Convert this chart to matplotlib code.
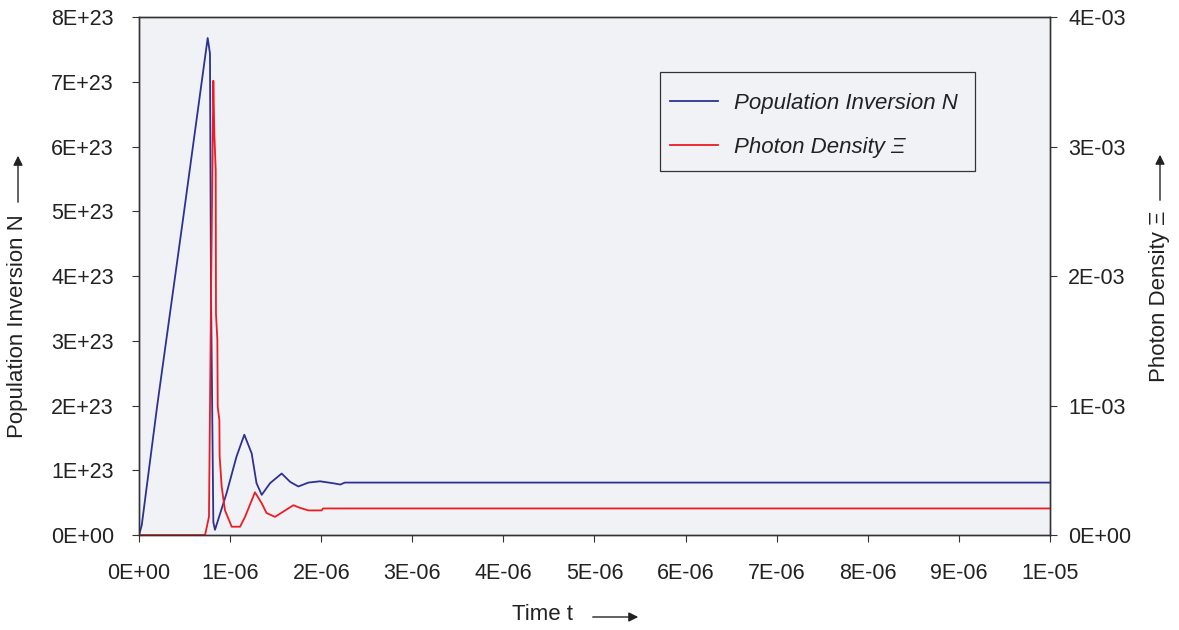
import matplotlib.pyplot as plt
from matplotlib.patches import Rectangle
from matplotlib.ticker import FixedLocator

plt.rcParams['font.family'] = ['Liberation Sans', 'DejaVu Sans']

# population inversion N (time in s, N in m^-3)
t_n = [0, 0.03, 0.2, 0.49, 0.754, 0.779, 0.79, 0.816, 0.834, 0.96, 1.07, 1.156,
       1.237, 1.29, 1.347, 1.438, 1.566, 1.66, 1.749, 1.86, 1.987, 2.13, 2.21,
       2.26, 10.0]
n_vals = [0, 0.15, 2.0, 4.95, 7.68, 7.44, 3.84, 0.2, 0.08, 0.64, 1.21, 1.55,
          1.26, 0.80, 0.62, 0.80, 0.95, 0.82, 0.75, 0.81, 0.83, 0.80, 0.78,
          0.81, 0.81]

# photon density Xi
t_p = [0, 0.725, 0.768, 0.79, 0.816, 0.827, 0.842, 0.845, 0.86, 0.864, 0.882,
       0.885, 0.908, 0.944, 1.018, 1.109, 1.164, 1.273, 1.347, 1.40, 1.493,
       1.694, 1.767, 1.858, 2.005, 2.02, 10.0]
p_vals = [0, 0, 0.14, 1.8, 3.51, 3.10, 2.82, 1.71, 1.51, 0.99, 0.89, 0.61,
          0.37, 0.19, 0.064, 0.064, 0.14, 0.33, 0.245, 0.17, 0.14, 0.23, 0.21,
          0.19, 0.19, 0.205, 0.205]

x_ticks = [i * 1e-6 for i in range(11)]
x_labels = ['0E+00'] + ['%dE-06' % i for i in range(1, 10)] + ['1E-05']
left_ticks = [i * 1e23 for i in range(9)]
left_labels = ['0E+00'] + ['%dE+23' % i for i in range(1, 9)]
right_ticks = [i * 1e-3 for i in range(5)]
right_labels = ['0E+00'] + ['%dE-03' % i for i in range(1, 5)]

blue = '#2E3192'
red = '#ED1C24'
bg = '#F1F2F5'
dark = '#333333'
txt_c = '#222222'

fig = plt.figure(figsize=(11.79, 6.3), dpi=100)
W, H = 1179, 630
ax = fig.add_axes([139 / W, (H - 535) / H, (1050 - 139) / W, (535 - 17.3) / H])
ax.set_facecolor(bg)
ax2 = ax.twinx()

l1, = ax.plot([t * 1e-6 for t in t_n], [v * 1e23 for v in n_vals], color=blue, lw=1.3)
l2, = ax2.plot([t * 1e-6 for t in t_p], [v * 1e-3 for v in p_vals], color=red, lw=1.3)

ax.set_xlim(0, 1e-5)
ax.set_ylim(0, 8e23)
ax2.set_ylim(0, 4e-3)
ax.xaxis.set_major_locator(FixedLocator(x_ticks))
ax.set_xticklabels(x_labels)
ax.yaxis.set_major_locator(FixedLocator(left_ticks))
ax.set_yticklabels(left_labels)
ax2.yaxis.set_major_locator(FixedLocator(right_ticks))
ax2.set_yticklabels(right_labels)

for a in (ax, ax2):
    for s in a.spines.values():
        s.set_color(dark)
        s.set_linewidth(1.0)
ax.tick_params(axis='x', direction='out', length=5, width=0.8, color=dark,
               labelsize=15.5, pad=15, labelcolor=txt_c)
ax.tick_params(axis='y', direction='out', length=5, width=0.8, color=dark,
               labelsize=15.5, pad=13, labelcolor=txt_c)
ax2.tick_params(axis='y', direction='out', length=5, width=0.8, color=dark,
                labelsize=15.5, pad=8, labelcolor=txt_c)

# legend frame drawn separately, entries placed inside it
ax2.add_patch(Rectangle((660 / W, 1 - 171 / H), 315 / W, 99 / H,
                        transform=fig.transFigure, facecolor=bg, clip_on=False,
                        edgecolor=dark, lw=0.9, zorder=4))
leg = ax2.legend([l1, l2], ['Population Inversion N', 'Photon Density Ξ'],
                 loc='upper left', bbox_to_anchor=(670 / W, 1 - 93 / H),
                 bbox_transform=fig.transFigure, prop={'size': 16, 'style': 'italic'},
                 frameon=False, handlelength=2.15, handletextpad=0.75,
                 labelspacing=1.02, borderpad=0, borderaxespad=0)
leg.set_zorder(6)
for t in leg.get_texts():
    t.set_color(txt_c)

# axis labels with arrows
fig.text(543 / W, 1 - 615 / H, 'Time t', fontsize=16, ha='center', va='center', color=txt_c)
fig.text(18 / W, 1 - 326 / H, 'Population Inversion N', fontsize=16, rotation=90,
         ha='center', va='center', color=txt_c)
fig.text(1160 / W, 1 - 296 / H, 'Photon Density Ξ', fontsize=16, rotation=90,
         ha='center', va='center', color=txt_c)

arrow = dict(arrowstyle='-|>', color=txt_c, lw=1.0, mutation_scale=14)
ax.annotate('', xy=(641 / W, 1 - 617 / H), xytext=(590 / W, 1 - 617 / H),
            xycoords='figure fraction', textcoords='figure fraction', arrowprops=arrow)
ax.annotate('', xy=(18 / W, 1 - 153 / H), xytext=(18 / W, 1 - 205 / H),
            xycoords='figure fraction', textcoords='figure fraction', arrowprops=arrow)
ax.annotate('', xy=(1160 / W, 1 - 152 / H), xytext=(1160 / W, 1 - 203 / H),
            xycoords='figure fraction', textcoords='figure fraction', arrowprops=arrow)

fig.savefig('out.png', dpi=100, facecolor='white')
